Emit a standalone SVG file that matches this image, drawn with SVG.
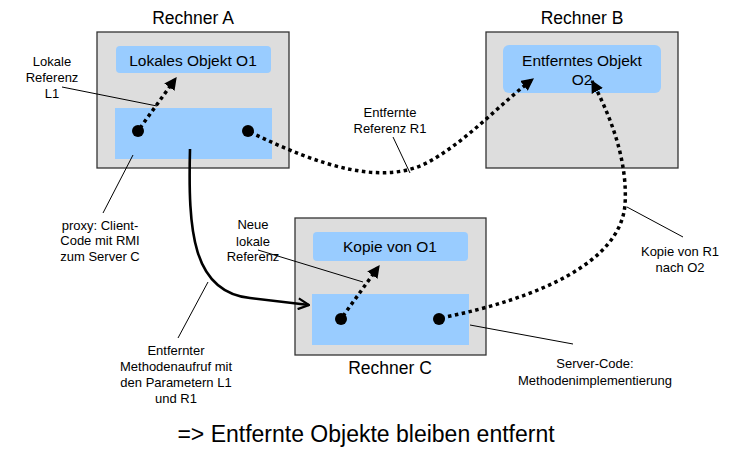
<svg xmlns="http://www.w3.org/2000/svg" width="731" height="449" viewBox="0 0 731 449">
<style>
text{font-family:"Liberation Sans",Arial,sans-serif;fill:#000}
.title{font-size:17.5px;text-anchor:middle}
.obj{font-size:15.5px;text-anchor:middle}
.lbl{font-size:13px;text-anchor:middle}
.box{fill:#dddddd;stroke:#333;stroke-width:1.3}
.inner{fill:#99ccff;stroke:none}
.dot{fill:#000}
.dotted{fill:none;stroke:#000;stroke-width:3.5;stroke-dasharray:3.5 3.5}
.leader{fill:none;stroke:#000;stroke-width:1}
.thick{fill:none;stroke:#000;stroke-width:2.6}
</style>
<defs>
<marker id="fill" viewBox="0 0 10 10" refX="9" refY="5" markerWidth="3.6" markerHeight="3.6" orient="auto" markerUnits="strokeWidth">
<path d="M0,0 L10,5 L0,10 Z" fill="#000"/>
</marker>
<marker id="open" viewBox="0 0 12 12" refX="11" refY="6" markerWidth="5" markerHeight="5" orient="auto" markerUnits="strokeWidth">
<path d="M1,1 L11,6 L1,11" fill="none" stroke="#000" stroke-width="2"/>
</marker>
</defs>

<g id="rechnerA">
<text class="title" x="193" y="24">Rechner A</text>
<rect class="box" x="97" y="32" width="192" height="136"/>
<rect class="inner" x="116" y="46" width="155" height="27" rx="4"/>
<text class="obj" x="193" y="66">Lokales Objekt O1</text>
<rect class="inner" x="115" y="108" width="157" height="51"/>
<circle class="dot" cx="138" cy="131" r="6"/>
<circle class="dot" cx="248" cy="131" r="6"/>
</g>

<g id="rechnerB">
<text class="title" x="582" y="24">Rechner B</text>
<rect class="box" x="486" y="32" width="192" height="136"/>
<rect class="inner" x="503" y="45" width="158" height="48" rx="6"/>
<text class="obj" x="582" y="66">Entferntes Objekt</text>
<text class="obj" x="582" y="85">O2</text>
</g>

<g id="rechnerC">
<rect class="box" x="295" y="218" width="191" height="137"/>
<rect class="inner" x="313" y="232" width="155" height="29" rx="4"/>
<text class="obj" x="390" y="252">Kopie von O1</text>
<rect class="inner" x="312" y="294" width="157" height="51"/>
<circle class="dot" cx="341" cy="319" r="6"/>
<circle class="dot" cx="439" cy="319" r="6"/>
<text class="title" x="390" y="374">Rechner C</text>
</g>

<g id="connectors">
<path class="dotted" d="M140,128 L176,78" marker-end="url(#fill)"/>
<path class="dotted" d="M250,132 C320,166 385,188 432,160 C470,138 500,104 533,79" marker-end="url(#fill)"/>
<path class="dotted" d="M343,316 L379,266" marker-end="url(#fill)"/>
<path class="dotted" d="M441,318 C540,298 620,262 625,205 C628,160 610,115 592,81" marker-end="url(#fill)"/>
<path class="thick" d="M190,149 C188,230 192,292 250,298 C275,301 292,303 309,305" marker-end="url(#open)"/>
<line class="leader" x1="62" y1="87" x2="157" y2="106"/>
<line class="leader" x1="133" y1="155" x2="103" y2="213"/>
<line class="leader" x1="393" y1="137" x2="410" y2="173"/>
<line class="leader" x1="258" y1="250" x2="363" y2="282"/>
<line class="leader" x1="208" y1="282" x2="178" y2="338"/>
<line class="leader" x1="470" y1="325" x2="573" y2="344"/>
<line class="leader" x1="627" y1="207" x2="683" y2="237"/>
</g>

<g id="labels">
<text class="lbl" x="52" y="66">Lokale</text>
<text class="lbl" x="52" y="82">Referenz</text>
<text class="lbl" x="52" y="98">L1</text>
<text class="lbl" x="390" y="117">Entfernte</text>
<text class="lbl" x="390" y="133">Referenz R1</text>
<text class="lbl" x="100" y="230">proxy: Client-</text>
<text class="lbl" x="100" y="245">Code mit RMI</text>
<text class="lbl" x="100" y="261">zum Server C</text>
<text class="lbl" x="253" y="229">Neue</text>
<text class="lbl" x="253" y="246">lokale</text>
<text class="lbl" x="253" y="261">Referenz</text>
<text class="lbl" x="680" y="256">Kopie von R1</text>
<text class="lbl" x="680" y="272">nach O2</text>
<text class="lbl" x="176" y="355">Entfernter</text>
<text class="lbl" x="176" y="371">Methodenaufruf mit</text>
<text class="lbl" x="176" y="387">den Parametern L1</text>
<text class="lbl" x="176" y="403">und R1</text>
<text class="lbl" x="595" y="368">Server-Code:</text>
<text class="lbl" x="595" y="385">Methodenimplementierung</text>
<text x="366" y="442" style="font-size:23px;text-anchor:middle">=&gt; Entfernte Objekte bleiben entfernt</text>
</g>
</svg>
